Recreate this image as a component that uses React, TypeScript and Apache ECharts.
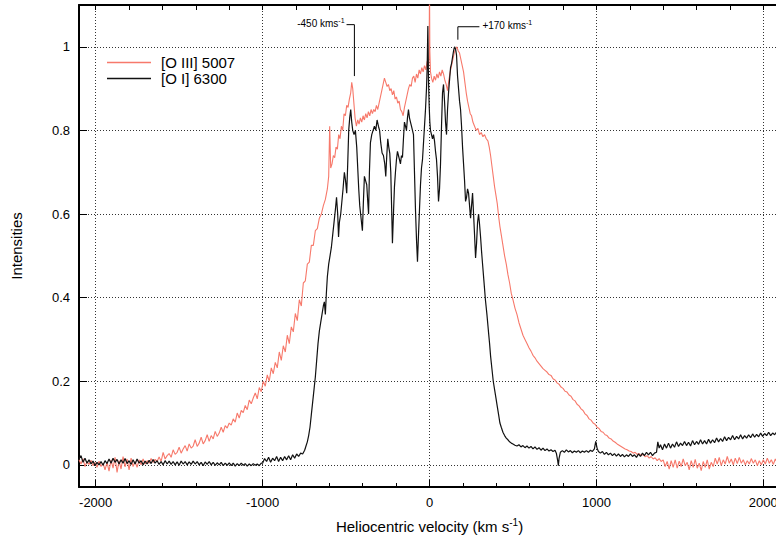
import { useEffect, useRef } from "react";
import * as echarts from "echarts";

const OIII_NAME = "[O III] 5007";
const OI_NAME = "[O I] 6300";
const X_MAJOR = [-2000, -1000, 0, 1000, 2000];
const X_MINOR = [-2000, -1800, -1600, -1400, -1200, -1000, -800, -600, -400, -200, 0, 200, 400, 600, 800, 1000, 1200, 1400, 1600, 1800, 2000];
const Y_TICKS = [0, 0.2, 0.4, 0.6, 0.8, 1];

const OIII: [number, number][] = [
  [-2100,0.012],[-2088,0.002],[-2076,0.015],[-2064,-0.004],[-2052,0.008],[-2040,0.001],[-2028,0.011],[-2016,-0.002],[-2004,0.006],[-1992,-0.006],
  [-1980,0.009],[-1968,-0.004],[-1956,0.004],[-1944,-0.012],[-1932,0.006],[-1920,-0.015],[-1908,0.012],[-1896,-0.008],[-1884,0.018],[-1872,-0.018],
  [-1860,0.01],[-1848,-0.01],[-1836,0.02],[-1824,-0.005],[-1812,0.014],[-1800,-0.012],[-1788,0.016],[-1776,-0.004],[-1764,0.008],[-1752,-0.006],
  [-1740,0.012],[-1728,0.0],[-1716,0.014],[-1704,0.002],[-1692,0.01],[-1680,0.004],[-1668,0.015],[-1656,0.006],[-1644,0.013],[-1632,0.008],
  [-1620,0.019],[-1608,0.008],[-1596,0.03],[-1584,0.014],[-1572,0.022],[-1560,0.027],[-1548,0.018],[-1536,0.036],[-1524,0.025],[-1512,0.03],
  [-1500,0.042],[-1488,0.028],[-1476,0.038],[-1464,0.046],[-1452,0.033],[-1440,0.05],[-1428,0.04],[-1416,0.045],[-1404,0.06],[-1392,0.044],
  [-1380,0.052],[-1368,0.066],[-1356,0.05],[-1344,0.058],[-1332,0.072],[-1320,0.056],[-1308,0.07],[-1296,0.062],[-1284,0.08],[-1272,0.068],
  [-1260,0.076],[-1248,0.09],[-1236,0.078],[-1224,0.094],[-1212,0.088],[-1200,0.1],[-1188,0.095],[-1176,0.11],[-1164,0.102],[-1152,0.124],
  [-1140,0.112],[-1128,0.13],[-1116,0.125],[-1104,0.142],[-1092,0.132],[-1080,0.155],[-1068,0.146],[-1056,0.16],[-1044,0.172],[-1032,0.158],
  [-1020,0.185],[-1008,0.175],[-996,0.2],[-984,0.188],[-972,0.215],[-960,0.2],[-948,0.232],[-936,0.218],[-924,0.245],[-912,0.232],
  [-900,0.27],[-888,0.25],[-876,0.285],[-864,0.27],[-852,0.31],[-840,0.29],[-828,0.33],[-816,0.318],[-804,0.362],[-792,0.345],
  [-780,0.395],[-768,0.38],[-756,0.435],[-744,0.44],[-732,0.48],[-720,0.485],[-708,0.525],[-696,0.525],[-684,0.56],[-672,0.565],
  [-660,0.59],[-648,0.6],[-636,0.62],[-624,0.635],[-612,0.66],[-604,0.69],[-598,0.81],[-592,0.71],[-584,0.72],[-576,0.74],
  [-568,0.735],[-560,0.76],[-552,0.755],[-544,0.79],[-536,0.78],[-528,0.81],[-520,0.8],[-512,0.84],[-504,0.835],[-496,0.86],
  [-488,0.855],[-480,0.875],[-472,0.89],[-466,0.915],[-460,0.9],[-454,0.87],[-446,0.83],[-438,0.81],[-430,0.825],[-422,0.815],
  [-414,0.83],[-406,0.82],[-398,0.835],[-390,0.825],[-382,0.84],[-374,0.83],[-366,0.845],[-358,0.835],[-350,0.85],[-342,0.84],
  [-334,0.85],[-326,0.845],[-318,0.86],[-310,0.85],[-302,0.865],[-294,0.88],[-286,0.895],[-278,0.91],[-270,0.925],[-262,0.915],
  [-254,0.905],[-246,0.91],[-238,0.895],[-230,0.9],[-222,0.885],[-214,0.895],[-206,0.875],[-198,0.88],[-190,0.865],[-182,0.87],
  [-174,0.85],[-166,0.845],[-158,0.835],[-150,0.855],[-142,0.87],[-134,0.885],[-126,0.9],[-118,0.91],[-110,0.905],[-102,0.925],
  [-94,0.93],[-86,0.915],[-78,0.935],[-70,0.925],[-62,0.945],[-54,0.935],[-46,0.95],[-38,0.94],[-30,0.955],[-22,0.945],
  [-14,0.965],[-6,0.955],[-2,0.98],[0,1.15],[2,0.99],[6,0.94],[12,0.925],[20,0.915],[28,0.93],[36,0.92],
  [44,0.935],[52,0.925],[60,0.94],[68,0.93],[76,0.945],[84,0.935],[92,0.92],[100,0.91],[108,0.895],[116,0.92],
  [124,0.94],[132,0.955],[140,0.97],[148,0.985],[156,0.995],[164,1.0],[172,0.99],[180,0.985],[188,0.97],[196,0.955],
  [204,0.94],[212,0.915],[220,0.89],[228,0.87],[236,0.855],[244,0.84],[252,0.835],[260,0.82],[270,0.81],[280,0.8],
  [290,0.805],[300,0.79],[310,0.795],[320,0.785],[330,0.79],[340,0.78],[350,0.775],[358,0.76],[366,0.74],[374,0.715],
  [382,0.69],[390,0.665],[398,0.645],[406,0.625],[414,0.595],[422,0.57],[430,0.55],[440,0.525],[450,0.5],[460,0.48],
  [470,0.455],[480,0.435],[490,0.41],[500,0.395],[512,0.375],[524,0.36],[536,0.34],[548,0.325],[560,0.31],[572,0.3],
  [584,0.29],[596,0.28],[608,0.272],[620,0.262],[632,0.256],[644,0.248],[656,0.242],[668,0.236],[680,0.23],[692,0.226],
  [704,0.222],[716,0.216],[728,0.214],[740,0.206],[752,0.203],[764,0.196],[776,0.193],[788,0.186],[800,0.183],[812,0.176],
  [824,0.174],[836,0.167],[848,0.164],[860,0.156],[872,0.153],[884,0.145],[896,0.141],[908,0.134],[920,0.13],[932,0.122],
  [944,0.118],[956,0.11],[968,0.107],[980,0.1],[992,0.097],[1004,0.09],[1016,0.087],[1028,0.08],[1040,0.078],[1052,0.072],
  [1064,0.07],[1076,0.064],[1088,0.062],[1100,0.057],[1112,0.054],[1124,0.05],[1136,0.047],[1148,0.044],[1160,0.041],[1172,0.038],
  [1184,0.036],[1196,0.033],[1208,0.032],[1220,0.028],[1232,0.03],[1244,0.025],[1256,0.027],[1268,0.022],[1280,0.025],[1292,0.019],
  [1304,0.022],[1316,0.016],[1328,0.02],[1340,0.014],[1352,0.017],[1364,0.01],[1376,0.015],[1388,0.008],[1400,0.012],[1412,-0.004],
  [1424,0.008],[1436,-0.01],[1448,0.01],[1460,-0.006],[1472,0.012],[1484,-0.008],[1496,0.009],[1508,-0.004],[1520,0.014],[1532,-0.002],
  [1544,0.006],[1556,-0.012],[1568,0.01],[1580,-0.006],[1592,0.013],[1604,-0.008],[1616,0.004],[1628,-0.014],[1640,0.008],[1652,-0.006],
  [1664,0.012],[1676,-0.01],[1688,0.006],[1700,-0.004],[1712,0.016],[1724,0.002],[1736,0.018],[1748,-0.002],[1760,0.012],[1772,0.002],
  [1784,0.02],[1796,0.004],[1808,0.014],[1820,0.0],[1832,0.016],[1844,0.003],[1856,0.018],[1868,0.004],[1880,0.012],[1892,0.0],
  [1904,0.01],[1916,0.002],[1928,0.015],[1940,0.004],[1952,0.012],[1964,-0.002],[1976,0.01],[1988,0.0],[2000,0.012],[2012,0.002],
  [2024,0.016],[2036,0.004],[2048,0.012],[2060,0.001],[2072,0.014],[2084,0.005],[2096,0.012]
];

const OI: [number, number][] = [
  [-2100,0.014],[-2088,0.022],[-2076,0.006],[-2064,0.016],[-2052,0.004],[-2040,0.012],[-2028,0.002],[-2016,0.009],[-2004,-0.002],[-1992,0.006],
  [-1980,0.0],[-1968,0.008],[-1956,-0.001],[-1944,0.01],[-1932,0.003],[-1920,0.014],[-1908,0.004],[-1896,0.016],[-1884,0.006],[-1872,0.013],
  [-1860,0.002],[-1848,0.012],[-1836,0.004],[-1824,0.015],[-1812,0.003],[-1800,0.01],[-1788,0.001],[-1776,0.012],[-1764,0.002],[-1752,0.014],
  [-1740,0.004],[-1728,0.01],[-1716,0.0],[-1704,0.009],[-1692,0.002],[-1680,0.011],[-1668,0.003],[-1656,0.013],[-1644,0.004],[-1632,0.01],
  [-1620,0.001],[-1608,0.008],[-1596,0.0],[-1584,0.01],[-1572,0.002],[-1560,0.009],[-1548,0.001],[-1536,0.008],[-1524,0.0],[-1512,0.007],
  [-1500,-0.001],[-1488,0.009],[-1476,0.002],[-1464,0.008],[-1452,0.0],[-1440,0.007],[-1428,0.001],[-1416,0.009],[-1404,0.002],[-1392,0.008],
  [-1380,0.0],[-1368,0.006],[-1356,-0.002],[-1344,0.007],[-1332,0.001],[-1320,0.008],[-1308,0.0],[-1296,0.006],[-1284,-0.001],[-1272,0.005],
  [-1260,0.0],[-1248,0.006],[-1236,-0.002],[-1224,0.004],[-1212,-0.001],[-1200,0.005],[-1188,-0.002],[-1176,0.004],[-1164,-0.003],[-1152,0.003],
  [-1140,-0.002],[-1128,0.004],[-1116,-0.001],[-1104,0.003],[-1092,-0.003],[-1080,0.002],[-1068,-0.002],[-1056,0.003],[-1044,-0.001],[-1032,0.002],
  [-1020,-0.002],[-1008,0.004],[-1000,0.004],[-988,0.015],[-976,0.008],[-964,0.018],[-952,0.006],[-940,0.016],[-928,0.01],[-916,0.02],
  [-904,0.008],[-892,0.018],[-880,0.01],[-868,0.02],[-856,0.012],[-844,0.022],[-832,0.012],[-820,0.024],[-808,0.016],[-796,0.026],
  [-784,0.02],[-772,0.028],[-760,0.026],[-748,0.035],[-740,0.045],[-732,0.055],[-724,0.07],[-716,0.09],[-708,0.12],[-700,0.15],
  [-692,0.18],[-684,0.21],[-676,0.25],[-668,0.29],[-660,0.32],[-652,0.34],[-644,0.36],[-636,0.38],[-630,0.39],[-624,0.36],
  [-618,0.41],[-612,0.45],[-604,0.48],[-596,0.5],[-588,0.52],[-580,0.55],[-572,0.58],[-564,0.61],[-557,0.64],[-550,0.6],
  [-545,0.545],[-540,0.58],[-532,0.6],[-525,0.63],[-518,0.66],[-510,0.7],[-503,0.68],[-496,0.65],[-490,0.72],[-484,0.8],
  [-478,0.83],[-472,0.85],[-466,0.82],[-460,0.8],[-452,0.79],[-444,0.8],[-436,0.76],[-430,0.71],[-424,0.66],[-418,0.62],
  [-410,0.59],[-402,0.56],[-396,0.63],[-390,0.69],[-383,0.68],[-376,0.67],[-370,0.63],[-365,0.6],[-360,0.7],[-354,0.77],
  [-346,0.79],[-338,0.8],[-330,0.81],[-322,0.8],[-314,0.825],[-306,0.81],[-299,0.8],[-292,0.77],[-284,0.746],[-276,0.74],
  [-268,0.72],[-262,0.69],[-256,0.74],[-250,0.78],[-244,0.76],[-238,0.745],[-232,0.7],[-226,0.6],[-222,0.53],[-216,0.6],
  [-210,0.665],[-204,0.7],[-198,0.73],[-192,0.75],[-186,0.74],[-180,0.73],[-174,0.72],[-168,0.74],[-162,0.735],[-156,0.78],
  [-150,0.82],[-144,0.81],[-138,0.8],[-132,0.83],[-126,0.85],[-120,0.83],[-114,0.82],[-108,0.81],[-102,0.8],[-96,0.79],
  [-90,0.7],[-84,0.61],[-78,0.54],[-72,0.486],[-66,0.55],[-60,0.61],[-54,0.67],[-48,0.71],[-42,0.73],[-36,0.77],
  [-30,0.81],[-24,0.85],[-18,0.9],[-14,0.95],[-10,1.05],[-6,0.92],[-2,0.86],[2,0.82],[6,0.8],[12,0.79],
  [18,0.78],[24,0.79],[30,0.775],[36,0.75],[42,0.73],[48,0.69],[54,0.63],[60,0.66],[66,0.72],[72,0.81],
  [78,0.89],[84,0.91],[90,0.87],[96,0.82],[102,0.79],[108,0.85],[114,0.89],[120,0.92],[126,0.95],[132,0.96],
  [138,0.975],[144,0.99],[150,1.0],[156,0.995],[162,0.98],[168,0.93],[174,0.9],[180,0.87],[186,0.85],[192,0.81],
  [198,0.76],[204,0.72],[210,0.68],[216,0.63],[222,0.64],[228,0.66],[234,0.65],[240,0.62],[246,0.59],[252,0.62],
  [258,0.65],[264,0.6],[270,0.55],[276,0.495],[282,0.53],[288,0.58],[294,0.6],[300,0.575],[306,0.545],[312,0.51],
  [318,0.48],[326,0.44],[335,0.395],[344,0.36],[353,0.32],[360,0.29],[366,0.26],[374,0.23],[382,0.2],[390,0.18],
  [398,0.16],[406,0.14],[414,0.12],[422,0.1],[430,0.09],[440,0.078],[450,0.07],[460,0.064],[470,0.06],[480,0.055],
  [490,0.052],[500,0.05],[512,0.047],[524,0.045],[536,0.048],[548,0.043],[560,0.046],[572,0.041],[584,0.045],[596,0.04],
  [608,0.044],[620,0.038],[632,0.043],[644,0.037],[656,0.041],[668,0.035],[680,0.04],[692,0.034],[704,0.038],[716,0.033],
  [728,0.036],[740,0.032],[752,0.035],[760,0.028],[768,0.01],[772,-0.002],[776,0.015],[784,0.03],[796,0.034],[808,0.03],
  [820,0.036],[832,0.031],[844,0.034],[856,0.029],[868,0.033],[880,0.03],[892,0.034],[904,0.029],[916,0.033],[928,0.03],
  [940,0.034],[952,0.03],[964,0.035],[976,0.032],[988,0.038],[996,0.056],[1004,0.04],[1012,0.032],[1024,0.028],[1036,0.032],
  [1048,0.025],[1060,0.03],[1072,0.024],[1084,0.028],[1096,0.022],[1108,0.027],[1120,0.021],[1132,0.026],[1144,0.02],[1156,0.025],
  [1168,0.019],[1180,0.024],[1192,0.02],[1204,0.026],[1216,0.02],[1228,0.024],[1240,0.018],[1252,0.026],[1264,0.02],[1276,0.028],
  [1288,0.022],[1300,0.03],[1312,0.024],[1324,0.03],[1336,0.022],[1348,0.028],[1360,0.03],[1368,0.055],[1376,0.04],[1384,0.048],
  [1396,0.036],[1408,0.05],[1420,0.04],[1432,0.052],[1444,0.04],[1456,0.05],[1468,0.042],[1480,0.055],[1492,0.044],[1504,0.052],
  [1516,0.046],[1528,0.056],[1540,0.046],[1552,0.054],[1564,0.045],[1576,0.058],[1588,0.048],[1600,0.056],[1612,0.049],[1624,0.06],
  [1636,0.05],[1648,0.058],[1660,0.05],[1672,0.061],[1684,0.052],[1696,0.06],[1708,0.053],[1720,0.064],[1732,0.055],[1744,0.063],
  [1756,0.056],[1768,0.067],[1780,0.058],[1792,0.066],[1804,0.06],[1816,0.07],[1828,0.06],[1840,0.068],[1852,0.062],[1864,0.072],
  [1876,0.062],[1888,0.07],[1900,0.064],[1912,0.072],[1924,0.065],[1936,0.074],[1948,0.066],[1960,0.073],[1972,0.067],[1984,0.076],
  [1996,0.068],[2008,0.075],[2020,0.07],[2032,0.078],[2044,0.07],[2056,0.076],[2068,0.072],[2080,0.079],[2092,0.073]
];

// annotation: velocity marker, bottom of the tick, height of the arm, end of the arm
const ANNOTATIONS = [
  { label: "-450 kms", v: -450, tipY: 0.93, armY: 1.053, armEndV: -497, side: "left" },
  { label: "+170 kms", v: 170, tipY: 1.017, armY: 1.048, armEndV: 299, side: "right" },
];

const FONT = "'Liberation Sans', Arial, Helvetica, sans-serif";

export default function App() {
  const ref = useRef<HTMLDivElement>(null);
  useEffect(() => {
    if (!ref.current) return;
    const chart = echarts.init(ref.current, null, { renderer: "svg" });
    const dotted = { color: "#333", width: 1, type: [1, 2] as number[] };
    chart.setOption({
      animation: false,
      backgroundColor: "#fff",
      textStyle: { fontFamily: FONT },
      grid: { left: 79, right: -4, top: 5, bottom: 54, outerBoundsMode: "none", containLabel: false },
      legend: {
        orient: "vertical",
        left: 107,
        top: 55,
        padding: 0,
        itemWidth: 44,
        itemHeight: 1.5,
        itemGap: 1,
        icon: "rect",
        textStyle: { fontSize: 15, color: "#000", lineHeight: 14, padding: [0, 0, 0, 5], fontFamily: FONT },
        data: [OIII_NAME, OI_NAME],
      },
      xAxis: [
        {
          type: "value",
          min: -2100,
          max: 2100,
          position: "bottom",
          name: "Heliocentric velocity (km s{sup|-1})",
          nameLocation: "middle",
          nameGap: 30,
          nameTextStyle: {
            fontSize: 15, color: "#000", fontFamily: FONT,
            rich: { sup: { fontSize: 10, padding: [0, 0, 9, 0], fontFamily: FONT, color: "#000" } },
          },
          axisLine: { show: true, onZero: false, lineStyle: { color: "#000", width: 2 } },
          axisTick: { show: true, inside: true, length: 7, customValues: X_MAJOR, lineStyle: { color: "#000", width: 1 } },
          axisLabel: { show: true, customValues: X_MAJOR, margin: 9, fontSize: 13, color: "#000", fontFamily: FONT, formatter: (v: number) => String(v) },
          splitLine: { show: true, lineStyle: dotted },
        },
        {
          type: "value",
          min: -2100,
          max: 2100,
          position: "top",
          axisLine: { show: true, onZero: false, lineStyle: { color: "#000", width: 2 } },
          axisTick: { show: true, inside: true, length: 5, customValues: X_MINOR, lineStyle: { color: "#000", width: 1 } },
          axisLabel: { show: false },
          splitLine: { show: false },
        },
        {
          type: "value",
          min: -2100,
          max: 2100,
          position: "bottom",
          axisLine: { show: false, onZero: false },
          axisTick: { show: true, inside: true, length: 4, customValues: X_MINOR, lineStyle: { color: "#000", width: 1 } },
          axisLabel: { show: false },
          splitLine: { show: false },
        },
      ],
      yAxis: [
        {
          type: "value",
          min: -0.053,
          max: 1.1,
          position: "left",
          name: "Intensities",
          nameLocation: "middle",
          nameGap: 55,
          nameTextStyle: { fontSize: 15, color: "#000", fontFamily: FONT },
          axisLine: { show: true, onZero: false, lineStyle: { color: "#000", width: 2 } },
          axisTick: { show: true, inside: true, length: 8, customValues: Y_TICKS, lineStyle: { color: "#000", width: 1 } },
          axisLabel: { show: true, customValues: Y_TICKS, margin: 9, fontSize: 13, color: "#000", fontFamily: FONT, formatter: (v: number) => String(Math.round(v * 10) / 10) },
          splitLine: { show: true, lineStyle: dotted },
        },
      ],
      series: [
        {
          name: OIII_NAME,
          type: "line",
          xAxisIndex: 0,
          yAxisIndex: 0,
          data: OIII,
          showSymbol: false,
          symbol: "none",
          color: "#f7796b",
          lineStyle: { color: "#f7796b", width: 1.1 },
          clip: true,
          z: 2,
        },
        {
          name: OI_NAME,
          type: "line",
          xAxisIndex: 0,
          yAxisIndex: 0,
          data: OI,
          showSymbol: false,
          symbol: "none",
          color: "#111",
          lineStyle: { color: "#111", width: 1.2 },
          clip: true,
          z: 3,
        },
      ],
    });

    const graphics: any[] = [];
    ANNOTATIONS.forEach((a) => {
      const tip = chart.convertToPixel({ gridIndex: 0 }, [a.v, a.tipY]) as number[];
      const top = chart.convertToPixel({ gridIndex: 0 }, [a.v, a.armY]) as number[];
      const end = chart.convertToPixel({ gridIndex: 0 }, [a.armEndV, a.armY]) as number[];
      graphics.push({
        type: "line",
        shape: { x1: tip[0], y1: tip[1], x2: top[0], y2: top[1] },
        style: { stroke: "#000", lineWidth: 1 },
        z: 10,
      });
      graphics.push({
        type: "line",
        shape: { x1: top[0], y1: top[1], x2: end[0], y2: end[1] },
        style: { stroke: "#000", lineWidth: 1 },
        z: 10,
      });
      const left = a.side === "left";
      graphics.push({
        type: "text",
        x: left ? end[0] - 2 : end[0] + 3,
        y: end[1] - 1,
        z: 10,
        style: {
          text: a.label + "{sup|-1}",
          fontSize: 10,
          fontFamily: FONT,
          fill: "#000",
          align: left ? "right" : "left",
          verticalAlign: "middle",
          rich: { sup: { fontSize: 7, padding: [0, 0, 7, 0], fontFamily: FONT, fill: "#000" } },
        },
      });
    });
    chart.setOption({ graphic: graphics });

    return () => chart.dispose();
  }, []);
  return (
    <div
      ref={ref}
      style={{ position: "fixed", left: 0, top: 0, width: 776, height: 541, background: "#fff" }}
    />
  );
}
